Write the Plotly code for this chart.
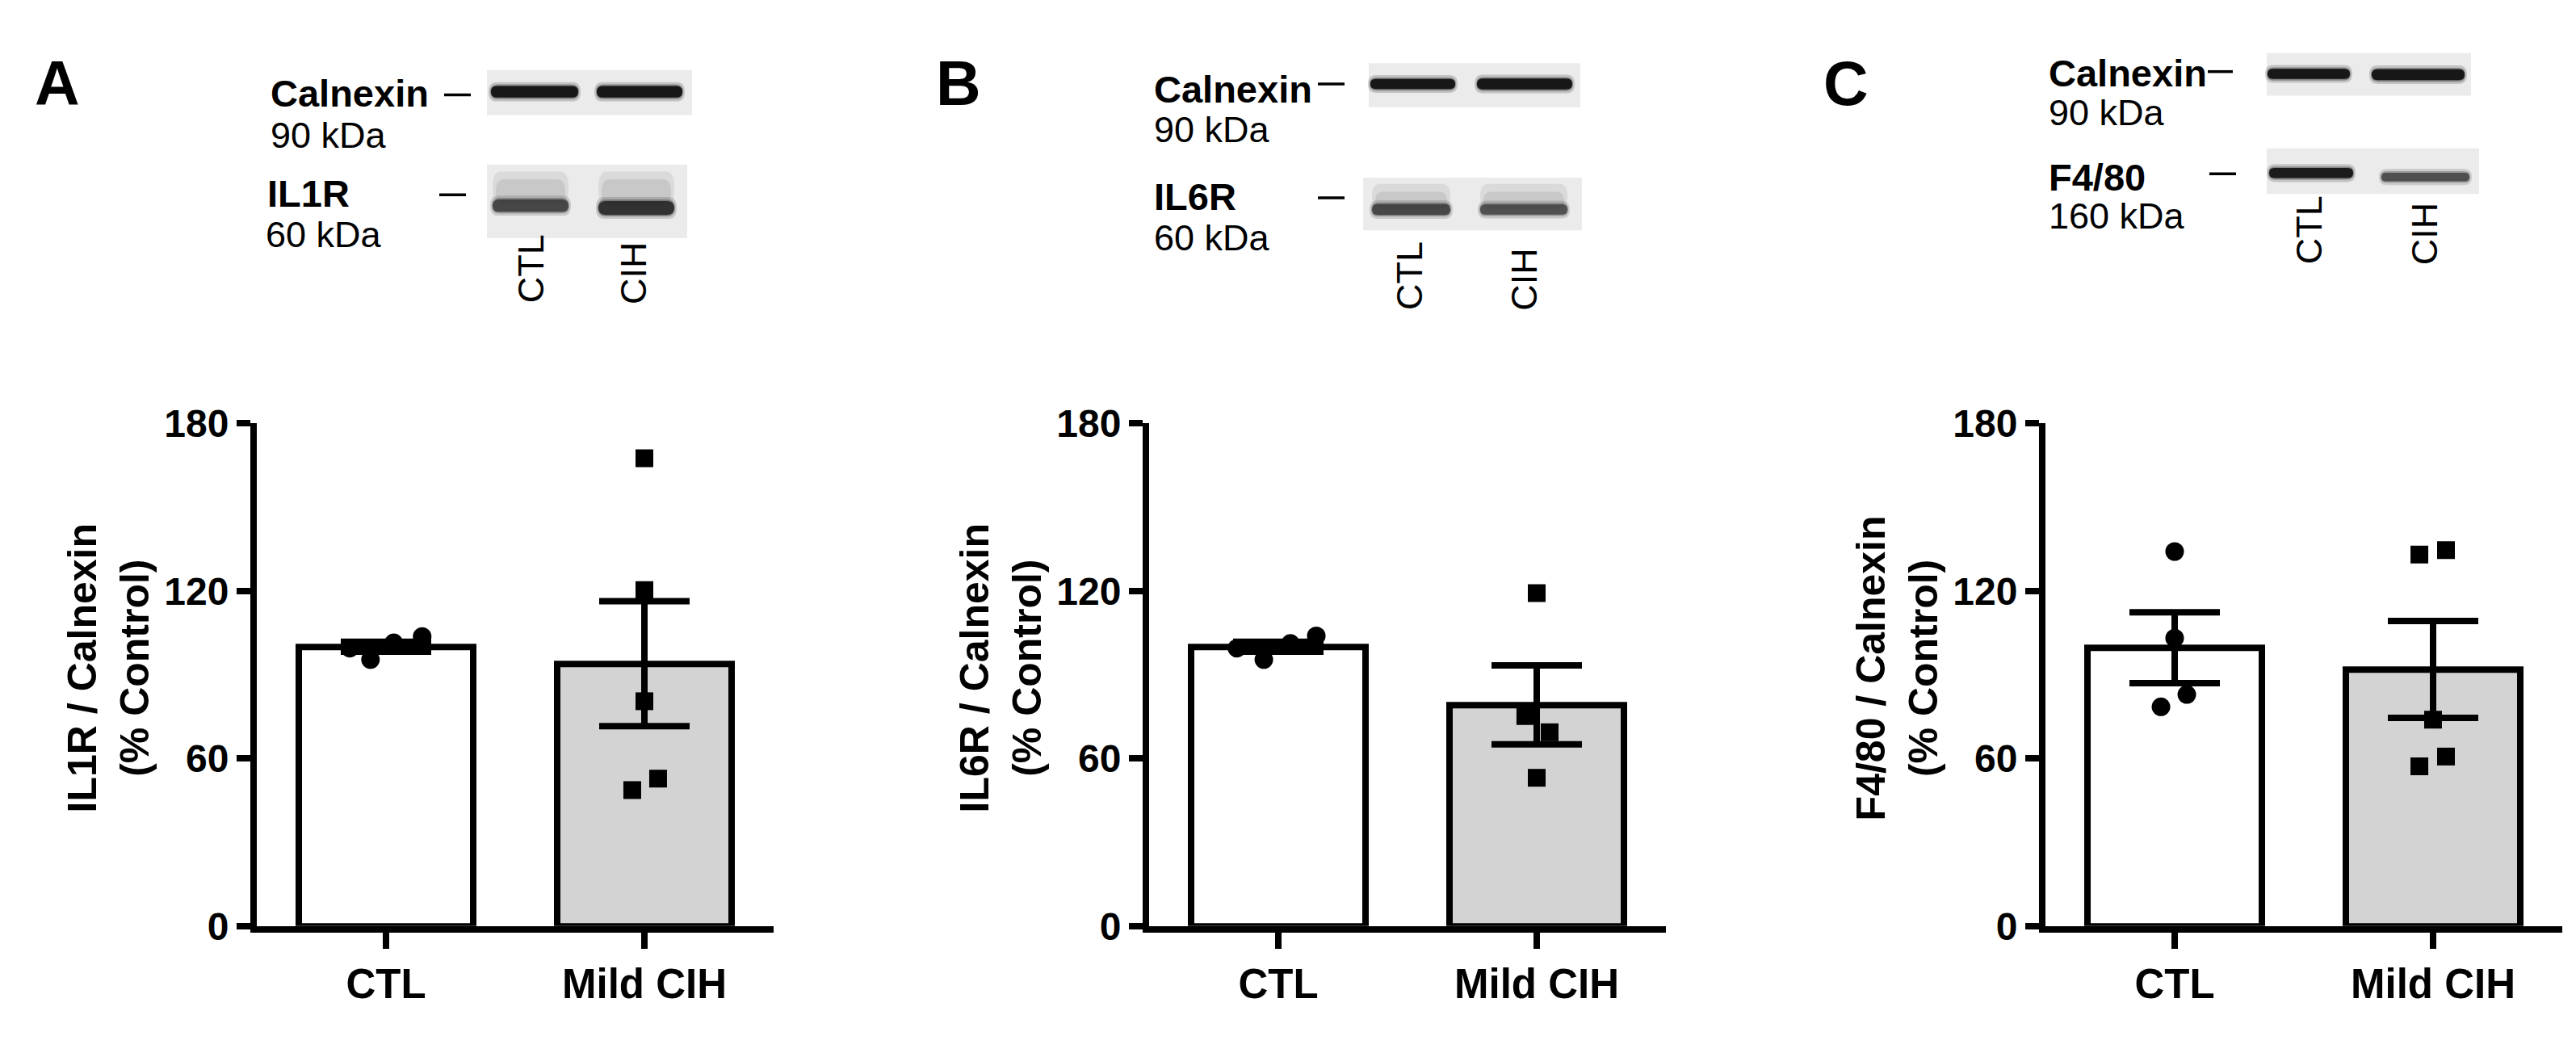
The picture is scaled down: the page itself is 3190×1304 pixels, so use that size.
import numpy as np
import plotly.graph_objects as go

W, H = 3190, 1304
FONT = "Liberation Sans"

groups = ["CTL", "Mild CIH"]
lane_labels = ["CTL", "CIH"]
y_ticks = [0, 60, 120, 180]

# single animals, % of control
il1r_ctl = [99.5, 95.4, 101.4, 103.7]
il1r_cih = [167.5, 120.3, 80.5, 52.8, 48.7]
il6r_ctl = [99.5, 95.4, 101.2, 103.9]
il6r_cih = [119.2, 75.2, 69.4, 53.1]
f480_ctl = [134.1, 103.1, 82.9, 78.5]
f480_cih = [134.6, 133.0, 73.9, 60.7, 57.2]

# sideways spread of the dots around each bar centre
il1r_ctl_jit = [-0.14, -0.06, 0.03, 0.14]
il1r_cih_jit = [0, 0, 0, 0.053, -0.047]
il6r_ctl_jit = [-0.16, -0.056, 0.047, 0.147]
il6r_cih_jit = [0, -0.044, 0.05, 0]
f480_ctl_jit = [0, 0, 0.047, -0.053]
f480_cih_jit = [0.05, -0.053, 0, 0.05, -0.053]


def px(x):
    return x / W


def py(y):
    return 1 - y / H


def mean_sem(v):
    v = np.asarray(v, dtype=float)
    return v.mean(), v.std(ddof=1) / np.sqrt(len(v))


panels = [
    dict(letter="A", letter_x=63, ax_left=310, ytitle="IL1R / Calnexin",
         ctl=il1r_ctl, cih=il1r_cih, ctl_jit=il1r_ctl_jit, cih_jit=il1r_cih_jit),
    dict(letter="B", letter_x=1179, ax_left=1415, ytitle="IL6R / Calnexin",
         ctl=il6r_ctl, cih=il6r_cih, ctl_jit=il6r_ctl_jit, cih_jit=il6r_cih_jit),
    dict(letter="C", letter_x=2278, ax_left=2525, ytitle="F4/80 / Calnexin",
         ctl=f480_ctl, cih=f480_cih, ctl_jit=f480_ctl_jit, cih_jit=f480_cih_jit),
]

fig = go.Figure()
annotations = []
shapes = []
layout_axes = {}

PLOT_TOP, PLOT_BOTTOM = 511, 1160

for i, p in enumerate(panels):
    sfx = "" if i == 0 else str(i + 1)
    xa, ya = "x" + sfx, "y" + sfx
    m_ctl, s_ctl = mean_sem(p["ctl"])
    m_cih, s_cih = mean_sem(p["cih"])

    fig.add_trace(go.Bar(
        x=[0, 1], y=[m_ctl, m_cih], width=0.675,
        marker=dict(color=["white", "#d3d3d3"], line=dict(color="black", width=8)),
        error_y=dict(type="data", array=[s_ctl, s_cih], color="black", thickness=8, width=56),
        xaxis=xa, yaxis=ya, hoverinfo="skip"))
    fig.add_trace(go.Scatter(
        x=[0 + j for j in p["ctl_jit"]], y=p["ctl"], mode="markers",
        marker=dict(symbol="circle", size=23, color="black"),
        xaxis=xa, yaxis=ya))
    fig.add_trace(go.Scatter(
        x=[1 + j for j in p["cih_jit"]], y=p["cih"], mode="markers",
        marker=dict(symbol="square", size=22, color="black"),
        xaxis=xa, yaxis=ya))

    x0 = p["ax_left"]
    layout_axes["xaxis" + sfx] = dict(
        domain=[px(x0), px(x0 + 640)], range=[-0.5, 1.5], anchor=ya,
        tickvals=[0, 1], ticktext=groups,
        showline=True, linewidth=8, linecolor="black",
        ticks="outside", ticklen=20, tickwidth=8, tickcolor="black",
        showgrid=False, zeroline=False,
        tickfont=dict(family=FONT, size=51, color="black", weight="bold"))
    layout_axes["yaxis" + sfx] = dict(
        domain=[py(PLOT_BOTTOM), py(PLOT_TOP)], range=[0, 180], anchor=xa,
        tickvals=y_ticks,
        showline=True, linewidth=8, linecolor="black",
        ticks="outside", ticklen=17, tickwidth=8, tickcolor="black",
        showgrid=False, zeroline=False,
        tickfont=dict(family=FONT, size=48, color="black", weight="bold"))

    annotations.append(dict(
        xref="paper", yref="paper", x=px(x0 - 184), y=py(827),
        text=p["ytitle"] + "<br>(% Control)", textangle=-90, showarrow=False,
        xanchor="center", yanchor="middle",
        font=dict(family=FONT, size=50, color="black", weight="bold")))
    annotations.append(dict(
        xref="paper", yref="paper", x=px(p["letter_x"]), y=py(72),
        text=p["letter"], showarrow=False, xanchor="center", yanchor="middle",
        font=dict(family=FONT, size=77, color="black", weight="bold")))


# ---- western blot insets (drawn, not data) ----
def text(x, y, s, bold=False, size=46):
    annotations.append(dict(
        xref="paper", yref="paper", x=px(x), y=py(y), text=s, showarrow=False,
        xanchor="left", yanchor="middle",
        font=dict(family=FONT, size=size, color="black", weight="bold" if bold else "normal")))


def lane_text(x, ymid, s):
    # rotated labels land a bit low/right, so nudge them back
    annotations.append(dict(
        xref="paper", yref="paper", x=px(x - 6), y=py(ymid - 18), text=s, showarrow=False,
        textangle=-90, xanchor="center", yanchor="middle",
        font=dict(family=FONT, size=45, color="black")))


def dash(x0, x1, y):
    shapes.append(dict(type="line", xref="paper", yref="paper",
                       x0=px(x0), x1=px(x1), y0=py(y), y1=py(y),
                       line=dict(color="black", width=3.5)))


def box(x0, x1, y0, y1, color="#ebebeb"):
    shapes.append(dict(type="rect", xref="paper", yref="paper",
                       x0=px(x0), x1=px(x1), y0=py(y0), y1=py(y1),
                       fillcolor=color, line=dict(width=0), layer="below"))


def capsule(x0, x1, y0, y1, color, opacity):
    r = min((y1 - y0) / 2, 10)
    yc = (y0 + y1) / 2
    pts = [
        ("M", (x0 + r, y0)), ("L", (x1 - r, y0)),
        ("Q", (x1, y0), (x1, yc)), ("Q", (x1, y1), (x1 - r, y1)),
        ("L", (x0 + r, y1)),
        ("Q", (x0, y1), (x0, yc)), ("Q", (x0, y0), (x0 + r, y0)),
    ]
    d = ""
    for cmd, *coords in pts:
        d += cmd + " " + " ".join(f"{px(a):.6f},{py(b):.6f}" for a, b in coords) + " "
    shapes.append(dict(type="path", xref="paper", yref="paper", path=d + "Z",
                       fillcolor=color, opacity=opacity, line=dict(width=0)))


def band(x0, x1, yc, h, color="#111111", core=0.95):
    capsule(x0 - 3, x1 + 3, yc - h / 2 - 5, yc + h / 2 + 5, color, 0.18)
    capsule(x0 - 1, x1 + 1, yc - h / 2 - 2, yc + h / 2 + 2, color, 0.35)
    capsule(x0, x1, yc - h / 2, yc + h / 2, color, core)


def smear(x0, x1, y0, y1):
    # soft diffuse signal above the receptor band
    capsule(x0, x1, y0, y1, "#a8a8a8", 0.25)
    capsule(x0 + 4, x1 - 4, y0 + 10, y1, "#a0a0a0", 0.3)


# panel A
text(325, 85, "Calnexin", bold=True, size=47)
text(325, 139, "90 kDa", size=45)
text(321, 214, "IL1R", bold=True, size=47)
text(319, 267, "60 kDa", size=45)
dash(542, 575, 87)
dash(536, 569, 216)
box(595, 849, 55, 113)
band(600, 708, 83, 15)
band(731, 837, 83, 15)
box(595, 843, 177, 272)
smear(602, 696, 186, 228)
smear(733, 827, 186, 230)
band(602, 696, 230, 16, "#333333", 0.8)
band(733, 827, 233, 18, "#222222", 0.85)
lane_text(655, 330, lane_labels[0])
lane_text(782, 335, lane_labels[1])

# panel B
text(1419, 80, "Calnexin", bold=True, size=47)
text(1419, 132, "90 kDa", size=45)
text(1419, 218, "IL6R", bold=True, size=47)
text(1419, 272, "60 kDa", size=45)
dash(1624, 1657, 73)
dash(1624, 1657, 220)
box(1687, 1949, 46, 103)
band(1689, 1794, 73, 13)
band(1821, 1939, 73, 14)
box(1680, 1951, 194, 262)
smear(1691, 1788, 202, 234)
smear(1825, 1933, 202, 234)
band(1691, 1788, 235, 14, "#333333", 0.8)
band(1825, 1933, 235, 13, "#3a3a3a", 0.75)
lane_text(1744, 339, lane_labels[0])
lane_text(1886, 343, lane_labels[1])

# panel C
text(2527, 59, "Calnexin", bold=True, size=47)
text(2527, 110, "90 kDa", size=45)
text(2527, 193, "F4/80", bold=True, size=47)
text(2527, 243, "160 kDa", size=45)
dash(2726, 2757, 57)
dash(2728, 2761, 189)
box(2799, 3052, 33, 88)
band(2800, 2902, 60, 13)
band(2929, 3044, 61, 14)
box(2799, 3062, 156, 215)
band(2802, 2906, 188, 13, "#151515", 0.95)
band(2941, 3050, 193, 11, "#3c3c3c", 0.8)
lane_text(2857, 280, lane_labels[0])
lane_text(3000, 284, lane_labels[1])

fig.update_layout(
    width=W, height=H,
    margin=dict(l=0, r=0, t=0, b=0),
    paper_bgcolor="white", plot_bgcolor="white",
    showlegend=False, bargap=0,
    annotations=annotations, shapes=shapes,
    **layout_axes)

fig.write_html("out.html")
